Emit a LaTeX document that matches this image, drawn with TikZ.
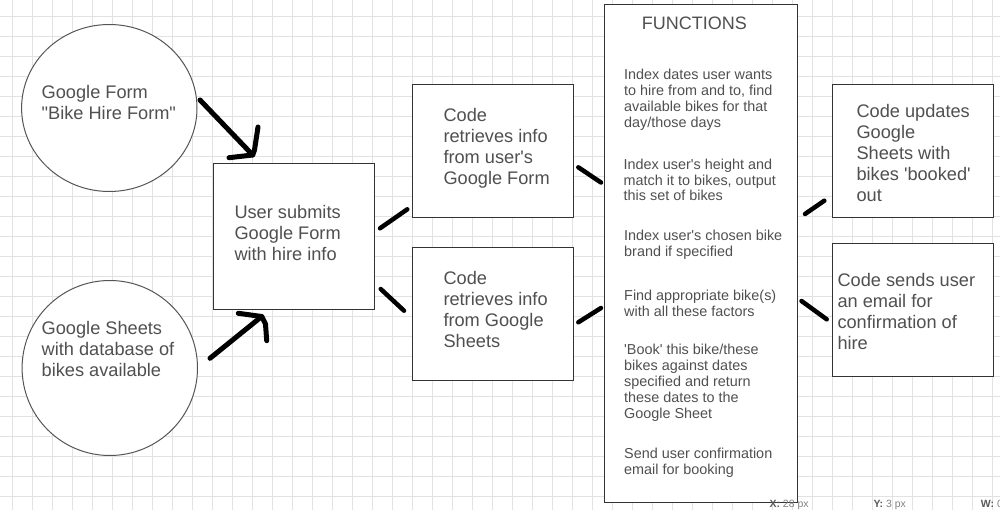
\documentclass[tikz,border=0pt]{standalone}
\usepackage{fontspec}
\setmainfont{Liberation Sans}[Ligatures=TeXOff]
\usetikzlibrary{shapes.geometric}
\definecolor{txt}{RGB}{80,80,80}
\definecolor{gridc}{RGB}{226,226,226}
\definecolor{edge}{RGB}{51,51,51}
\definecolor{circedge}{RGB}{85,85,85}
\definecolor{statk}{RGB}{90,90,90}
\definecolor{statv}{RGB}{130,130,130}
\begin{document}
\begin{tikzpicture}[x=1pt,y=-1pt,
  shapebox/.style={draw=edge, line width=1pt, fill=white, inner sep=0pt, outer sep=0pt},
  circshape/.style={ellipse, draw=circedge, line width=1pt, fill=white, inner sep=0pt, outer sep=0pt},
  bigtxt/.style={anchor=north west, align=left, inner sep=0pt, text=txt, font=\fontsize{18.2}{20.9}\selectfont},
  smalltxt/.style={anchor=north west, align=left, inner sep=0pt, text=txt, font=\fontsize{14.4}{15.9}\selectfont},
  stroke/.style={line width=4.5pt, line cap=round, line join=round},
  bigarrow/.style={line width=5pt, line cap=round, line join=round},
  gridline/.style={draw=gridc, line width=0.8pt},
  status/.style={anchor=base west, inner sep=0pt, font=\fontsize{10.5}{12}\selectfont}]
\useasboundingbox (0,0) rectangle (1000,510);
\fill[white] (0,0) rectangle (1000,510);
% grid
\foreach \i in {0,...,49} \draw[gridline] (12.7+20*\i,0) -- (12.7+20*\i,510);
\foreach \j in {0,...,24} \draw[gridline] (0,16.7+20*\j) -- (1000,16.7+20*\j);

% shapes
\node[circshape, minimum width=175.4pt, minimum height=167pt] (form) at (109.3,108) {};
\node[circshape, minimum width=175.4pt, minimum height=175pt] (sheets) at (109.8,368) {};
\node[shapebox, minimum width=161pt, minimum height=145.7pt] (user) at (293.8,236.2) {};
\node[shapebox, minimum width=161pt, minimum height=132.7pt] (code1) at (492.8,150.7) {};
\node[shapebox, minimum width=161pt, minimum height=132.7pt] (code2) at (492.8,313.7) {};
\node[shapebox, minimum width=192.6pt, minimum height=498pt] (func) at (701,253.3) {};
\node[shapebox, minimum width=161pt, minimum height=132.7pt] (upd) at (912.8,150.7) {};
\node[shapebox, minimum width=161pt, minimum height=132.7pt] (send) at (912.8,310.3) {};

% texts
\node[bigtxt] (formT) at (41.5,84) {\rule{0pt}{14pt}Google Form\\"Bike Hire Form"};
\node[bigtxt] (sheetsT) at (41.5,320.3) {\rule{0pt}{14pt}Google Sheets\\with database of\\bikes available};
\node[bigtxt] (userT) at (234.3,204.3) {\rule{0pt}{14pt}User submits\\Google Form\\with hire info};
\node[bigtxt] (code1T) at (443.3,107.7) {\rule{0pt}{14pt}Code\\retrieves info\\from user's\\Google Form};
\node[bigtxt] (code2T) at (443.3,270.3) {\rule{0pt}{14pt}Code\\retrieves info\\from Google\\Sheets};
\node[bigtxt] (updT) at (856.3,103.3) {\rule{0pt}{14pt}Code updates\\Google\\Sheets with\\bikes 'booked'\\out};
\node[bigtxt] (sendT) at (837.3,272.7) {\rule{0pt}{14pt}Code sends user\\an email for\\confirmation of\\hire};

\node[anchor=base west, inner sep=0pt, text=txt, font=\fontsize{18}{20.9}\selectfont] (funcTitle) at (641.7,30) {FUNCTIONS};
\node[smalltxt] (f1) at (624,67.8) {\rule{0pt}{11.5pt}Index dates user wants\\to hire from and to, find\\available bikes for that\\day/those days};
\node[smalltxt] (f2) at (623.5,157.5) {\rule{0pt}{11.5pt}Index user's height and\\match it to bikes, output\\this set of bikes};
\node[smalltxt] (f3) at (624,229.2) {\rule{0pt}{11.5pt}Index user's chosen bike\\brand if specified};
\node[smalltxt] (f4) at (624,288.5) {\rule{0pt}{11.5pt}Find appropriate bike(s)\\with all these factors};
\node[smalltxt] (f5) at (624,342.8) {\rule{0pt}{11.5pt}'Book' this bike/these\\bikes against dates\\specified and return\\these dates to the\\Google Sheet};
\node[smalltxt] (f6) at (624,446.8) {\rule{0pt}{11.5pt}Send user confirmation\\email for booking};

% hand-drawn arrows
\coordinate (a1s) at (200,100);
\coordinate (a1e) at (252.7,155);
\coordinate (a1h1) at (258,127);
\coordinate (a1k) at (254.5,150);
\coordinate (a1h2) at (229,157.7);
\draw[bigarrow] (a1s) -- (a1e);
\draw[bigarrow] (a1h1) -- (a1k) -- (a1e) -- (a1h2);

\coordinate (a2s) at (210,358.3);
\coordinate (a2e) at (261.7,316.5);
\coordinate (a2h1) at (238.3,313.3);
\coordinate (a2k) at (265.5,324);
\coordinate (a2h2) at (266.7,340.7);
\draw[bigarrow] (a2s) -- (a2e);
\draw[bigarrow] (a2h1) -- (a2e) -- (a2k) -- (a2h2);

% short strokes
\coordinate (s1a) at (380,228.3);   \coordinate (s1b) at (407.3,209.3);
\coordinate (s2a) at (380.7,289);   \coordinate (s2b) at (404,310.7);
\coordinate (s3a) at (578.3,167.3); \coordinate (s3b) at (601,182.5);
\coordinate (s4a) at (578.3,322.3); \coordinate (s4b) at (601,308);
\coordinate (s5a) at (805,214);     \coordinate (s5b) at (824.3,200.7);
\coordinate (s6a) at (801.5,301);   \coordinate (s6b) at (826.7,319.3);
\draw[stroke] (s1a) -- (s1b);
\draw[stroke] (s2a) -- (s2b);
\draw[stroke] (s3a) -- (s3b);
\draw[stroke] (s4a) -- (s4b);
\draw[stroke] (s5a) -- (s5b);
\draw[stroke] (s6a) -- (s6b);

% status bar
\node[status] (sx) at (769.3,507.3) {\textcolor{statk}{\textbf{X:}} \textcolor{statv}{28 px}};
\node[status] (sy) at (873.3,507.3) {\textcolor{statk}{\textbf{Y:}} \textcolor{statv}{3 px}};
\node[status] (sw) at (980.7,507.3) {\textcolor{statk}{\textbf{W:}} \textcolor{statv}{0}};
\end{tikzpicture}
\end{document}
